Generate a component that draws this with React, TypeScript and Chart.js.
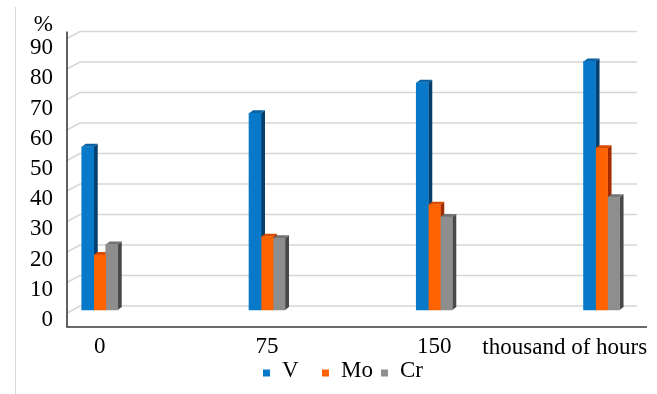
import React, { useEffect, useRef } from 'react';
import { Chart, registerables } from 'chart.js';

Chart.register(...registerables);

// Service time, thousand of hours
const hours = ['0', '75', '150', ''];
// Share of each element, %
const vanadium = [53.5, 64.5, 74.5, 81.5];
const molybdenum = [18, 24, 34.5, 53];
const chromium = [21.5, 23.5, 30.5, 37];
const seriesNames = ['V', 'Mo', 'Cr'];
const unitLabel = '%';
const hoursLabel = 'thousand of hours';

const FONT = "'Liberation Serif', 'Times New Roman', serif";
const TEXT_SIZE = 23;

// front, side and top shades of each extruded column
const FACES = [
  { front: '#0879C8', side: '#053F6D', top: '#0A62A2' },
  { front: '#FF6200', side: '#A32B00', top: '#D94C00' },
  { front: '#8E8E8E', side: '#484848', top: '#727272' },
];

const DEPTH_X = 4; // column extrusion
const DEPTH_Y = 3;
const WALL_X = 13; // left wall depth
const WALL_Y = 7;
const BACK_SHIFT = 4; // back wall sits a little above the column plane
const LEGEND_X = 263;
const LEGEND_STEP = 59;

const toPoints = (vals: number[]) => vals.map((v, i) => ({ x: i, y: v }));

const poly = (ctx: CanvasRenderingContext2D, pts: number[][]) => {
  ctx.beginPath();
  ctx.moveTo(pts[0][0], pts[0][1]);
  for (let i = 1; i < pts.length; i++) ctx.lineTo(pts[i][0], pts[i][1]);
  ctx.closePath();
  ctx.fill();
};

const frame3d = {
  id: 'frame3d',
  beforeDatasetsDraw(chart: any) {
    const { ctx, chartArea, scales } = chart;
    const y = scales.y;
    const labelScale = scales.yl;
    const { left, right, bottom } = chartArea;
    ctx.save();

    // outer frame edge
    ctx.strokeStyle = '#d9d9d9';
    ctx.lineWidth = 1;
    ctx.beginPath();
    ctx.moveTo(15.5, 7);
    ctx.lineTo(15.5, chart.height);
    ctx.stroke();

    // back wall gridlines with their run across the left wall
    ctx.strokeStyle = '#d6d6d6';
    ctx.lineWidth = 1.5;
    const values = labelScale.ticks.map((t: any) => t.value);
    values.forEach((v: number) => {
      const py = y.getPixelForValue(v) - BACK_SHIFT;
      ctx.beginPath();
      ctx.moveTo(left - WALL_X, py + WALL_Y);
      ctx.lineTo(left, py);
      ctx.lineTo(right, py);
      ctx.stroke();
    });

    // axis lines
    const topPx = y.getPixelForValue(Math.max(...values)) - BACK_SHIFT;
    ctx.strokeStyle = '#3a3a3a';
    ctx.lineWidth = 1.6;
    ctx.beginPath();
    ctx.moveTo(left - WALL_X, topPx);
    ctx.lineTo(left - WALL_X, bottom);
    ctx.lineTo(right + 10, bottom);
    ctx.stroke();

    // side and top faces of the columns, back to front
    chart.data.datasets.forEach((_ds: any, k: number) => {
      const meta = chart.getDatasetMeta(k);
      meta.data.forEach((bar: any) => {
        const { x, y: top, base, width } = bar.getProps(['x', 'y', 'base', 'width'], true);
        const l = x - width / 2;
        const r = x + width / 2;
        ctx.fillStyle = FACES[k].side;
        poly(ctx, [[r, top], [r + DEPTH_X, top - DEPTH_Y], [r + DEPTH_X, base - DEPTH_Y], [r, base]]);
        ctx.fillStyle = FACES[k].top;
        poly(ctx, [[l, top], [l + DEPTH_X, top - DEPTH_Y], [r + DEPTH_X, top - DEPTH_Y], [r, top]]);
      });
    });
    ctx.restore();
  },
  afterDraw(chart: any) {
    const { ctx, chartArea, scales } = chart;
    const x = scales.x;
    const labelScale = scales.yl;
    ctx.save();
    ctx.fillStyle = '#000';
    ctx.font = `${TEXT_SIZE}px ${FONT}`;

    // unit above the value axis
    ctx.textAlign = 'right';
    ctx.textBaseline = 'middle';
    ctx.fillText(unitLabel, chartArea.left - 27, labelScale.getPixelForValue(90) - 23);

    // time unit on the category line
    ctx.textAlign = 'center';
    ctx.fillText(hoursLabel, x.getPixelForValue(2.78), x.top + 7 + TEXT_SIZE * 0.6);

    // legend
    ctx.textAlign = 'left';
    ctx.textBaseline = 'alphabetic';
    seriesNames.forEach((name, k) => {
      const lx = LEGEND_X + k * LEGEND_STEP;
      ctx.fillStyle = FACES[k].front;
      ctx.fillRect(lx, 369.5, 7, 7);
      ctx.fillStyle = '#000';
      ctx.fillText(name, lx + 19, 377);
    });
    ctx.restore();
  },
};

export default function App() {
  const ref = useRef<HTMLCanvasElement>(null);

  useEffect(() => {
    const tickFont = { family: FONT, size: TEXT_SIZE };
    const chart = new Chart(ref.current as HTMLCanvasElement, {
      type: 'bar',
      data: {
        datasets: [vanadium, molybdenum, chromium].map((vals, k) => ({
          label: seriesNames[k],
          data: toPoints(vals),
          backgroundColor: FACES[k].front,
          borderWidth: 0,
          barThickness: 12,
          xAxisID: 'x',
          yAxisID: 'y',
        })),
      },
      options: {
        responsive: false,
        animation: false,
        events: [],
        layout: { padding: { top: 35.5, left: 15, right: 20, bottom: 27 } },
        plugins: { legend: { display: false }, tooltip: { enabled: false } },
        scales: {
          x: {
            type: 'linear',
            offset: false,
            min: -0.118,
            max: 3.212,
            grid: { display: false, drawTicks: false, tickLength: 0, offset: false },
            border: { display: false },
            ticks: {
              stepSize: 1,
              includeBounds: false,
              autoSkip: false,
              maxRotation: 0,
              padding: 6,
              color: '#000',
              font: tickFont,
              callback: (v: any) => hours[v as number] ?? '',
            },
            afterFit: (s: any) => {
              s.height = 40;
            },
          },
          y: { display: false, min: -5.574, max: 90 },
          yl: {
            position: 'left',
            min: -2.316,
            max: 94.14,
            grid: {
              display: true,
              drawOnChartArea: false,
              drawTicks: true,
              tickLength: 27,
              tickColor: 'rgba(0,0,0,0)',
            },
            border: { display: false },
            ticks: { stepSize: 10, includeBounds: false, padding: 0, color: '#000', font: tickFont },
            afterFit: (s: any) => {
              s.width = 65;
            },
          },
        },
      } as any,
      plugins: [frame3d],
    });
    return () => chart.destroy();
  }, []);

  return (
    <div style={{ position: 'fixed', left: 0, top: 0, width: 657, height: 394, background: '#fff' }}>
      <canvas ref={ref} width={657} height={394} style={{ display: 'block' }} />
    </div>
  );
}
